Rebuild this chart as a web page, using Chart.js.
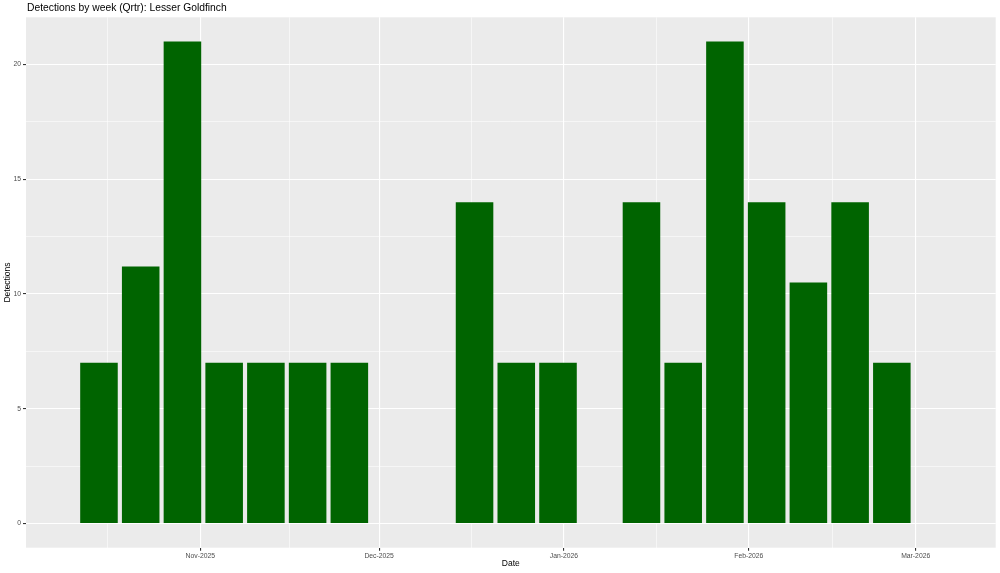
<!DOCTYPE html>
<html>
<head>
<meta charset="utf-8">
<title>Detections by week (Qrtr): Lesser Goldfinch</title>
<script src="https://cdn.jsdelivr.net/npm/chart.js@4/dist/chart.umd.min.js"></script>
<style>
  html, body { margin: 0; padding: 0; background: #ffffff; }
  #wrap { width: 1000px; height: 573px; }
</style>
</head>
<body>
<div id="wrap"><canvas id="chart" width="1000" height="573"></canvas></div>
<script>
'use strict';

// week starts and how many detections each week had
var weeks = ['2025-10-15', '2025-10-22', '2025-10-29', '2025-11-05', '2025-11-12', '2025-11-19', '2025-11-26',
  '2025-12-17', '2025-12-24', '2025-12-31',
  '2026-01-14', '2026-01-21', '2026-01-28', '2026-02-04', '2026-02-11', '2026-02-18', '2026-02-25'];
var detections = [7, 11.2, 21, 7, 7, 7, 7,
  14, 7, 7,
  14, 7, 21, 14, 10.5, 14, 7];

// axis breaks
var monthStarts = ['2025-10-01', '2025-11-01', '2025-12-01', '2026-01-01', '2026-02-01', '2026-03-01', '2026-04-01'];
var tickDates = ['2025-11-01', '2025-12-01', '2026-01-01', '2026-02-01', '2026-03-01'];
var tickLabels = ['Nov-2025', 'Dec-2025', 'Jan-2026', 'Feb-2026', 'Mar-2026'];
var yBreaks = [0, 5, 10, 15, 20];

var chartTitle = 'Detections by week (Qrtr): Lesser Goldfinch';

// days since 1 Oct 2025
var origin = Date.UTC(2025, 9, 1);
var toDay = function(s) {
  var p = s.split('-');
  return (Date.UTC(+p[0], +p[1] - 1, +p[2]) - origin) / 86400000;
};

var points = [];
for (var i = 0; i < weeks.length; i++) {
  points.push({x: toDay(weeks[i]), y: detections[i]});
}

var majorX = tickDates.map(toDay);
var minorX = [];
for (i = 0; i < monthStarts.length - 1; i++) {
  minorX.push((toDay(monthStarts[i]) + toDay(monthStarts[i + 1])) / 2);
}
var minorY = [];
for (i = 0; i < yBreaks.length - 1; i++) {
  minorY.push((yBreaks[i] + yBreaks[i + 1]) / 2);
}

var xMin = 1.76, xMax = 164.42;
var yMin = -1.05, yMax = 22.05;

var isMajor = function(list, v) {
  for (var n = 0; n < list.length; n++) {
    if (Math.abs(list[n] - v) < 1e-6) { return true; }
  }
  return false;
};

var sansFont = '"Liberation Sans", Arial, sans-serif';
var panelGrey = '#EBEBEB';

var panelBackground = {
  id: 'panelBackground',
  beforeDraw: function(chart) {
    var ctx = chart.ctx;
    var a = chart.chartArea;
    ctx.save();
    ctx.fillStyle = '#ffffff';
    ctx.fillRect(0, 0, chart.width, chart.height);
    ctx.fillStyle = panelGrey;
    ctx.fillRect(a.left, a.top, a.right - a.left, a.bottom - a.top);
    ctx.restore();
  }
};

var plotTitle = {
  id: 'plotTitle',
  afterDraw: function(chart) {
    var ctx = chart.ctx;
    ctx.save();
    ctx.fillStyle = '#000000';
    ctx.font = '10.3px ' + sansFont;
    ctx.textAlign = 'left';
    ctx.textBaseline = 'middle';
    ctx.fillText(chartTitle, chart.chartArea.left + 1, 8.5);
    ctx.restore();
  }
};

var ctx = document.getElementById('chart').getContext('2d');
new Chart(ctx, {
  type: 'bar',
  data: {
    datasets: [{
      label: 'Detections',
      data: points,
      backgroundColor: '#006400',
      borderWidth: 0,
      categoryPercentage: 1,
      barPercentage: 0.9
    }]
  },
  options: {
    responsive: false,
    animation: false,
    layout: {padding: {top: 17.3, right: 4.3, left: 0, bottom: 0}},
    plugins: {
      legend: {display: false},
      tooltip: {enabled: false},
      title: {display: false}
    },
    scales: {
      x: {
        type: 'linear',
        min: xMin,
        max: xMax,
        offset: false,
        border: {display: false},
        grid: {
          offset: false,
          color: '#ffffff',
          lineWidth: function(c) { return isMajor(majorX, c.tick.value) ? 1.1 : 0.55; },
          tickColor: function(c) { return isMajor(majorX, c.tick.value) ? '#333333' : 'rgba(0,0,0,0)'; },
          tickLength: 3
        },
        afterBuildTicks: function(scale) {
          var all = majorX.concat(minorX).filter(function(v) { return v >= xMin && v <= xMax; });
          all.sort(function(a, b) { return a - b; });
          scale.ticks = all.map(function(v) { return {value: v}; });
        },
        afterFit: function(scale) { scale.height = 25.3; },
        ticks: {
          autoSkip: false,
          maxRotation: 0,
          padding: 1,
          color: '#4D4D4D',
          font: {family: sansFont, size: 6.8},
          callback: function(value) {
            for (var k = 0; k < majorX.length; k++) {
              if (Math.abs(majorX[k] - value) < 1e-6) { return tickLabels[k]; }
            }
            return '';
          }
        },
        title: {
          display: true,
          text: 'Date',
          color: '#000000',
          font: {family: sansFont, size: 8.5},
          padding: {top: 0, bottom: 4.4}
        }
      },
      y: {
        type: 'linear',
        min: yMin,
        max: yMax,
        border: {display: false},
        grid: {
          color: '#ffffff',
          lineWidth: function(c) { return isMajor(yBreaks, c.tick.value) ? 1.1 : 0.55; },
          tickColor: function(c) { return isMajor(yBreaks, c.tick.value) ? '#333333' : 'rgba(0,0,0,0)'; },
          tickLength: 3
        },
        afterBuildTicks: function(scale) {
          var all = yBreaks.concat(minorY).filter(function(v) { return v >= yMin && v <= yMax; });
          all.sort(function(a, b) { return a - b; });
          scale.ticks = all.map(function(v) { return {value: v}; });
        },
        afterFit: function(scale) { scale.width = 26; },
        ticks: {
          autoSkip: false,
          padding: 2,
          color: '#4D4D4D',
          font: {family: sansFont, size: 6.8},
          callback: function(value) {
            return isMajor(yBreaks, value) ? String(value) : '';
          }
        },
        title: {
          display: true,
          text: 'Detections',
          color: '#000000',
          font: {family: sansFont, size: 8.5},
          padding: {top: 2.5, bottom: 0}
        }
      }
    }
  },
  plugins: [panelBackground, plotTitle]
});
</script>
</body>
</html>
